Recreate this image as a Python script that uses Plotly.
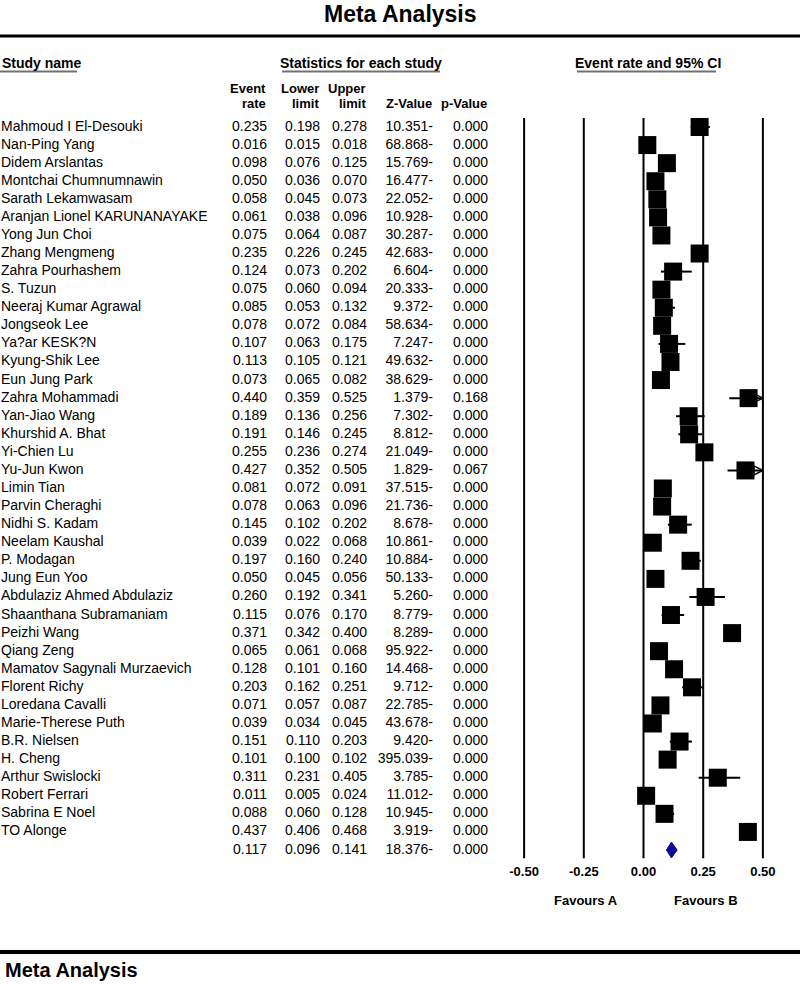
import plotly.graph_objects as go

# ---------------- data ----------------
studies = [
    "Mahmoud I El-Desouki", "Nan-Ping Yang", "Didem Arslantas", "Montchai Chumnumnawin",
    "Sarath Lekamwasam", "Aranjan Lionel KARUNANAYAKE", "Yong Jun Choi", "Zhang Mengmeng",
    "Zahra Pourhashem", "S. Tuzun", "Neeraj Kumar Agrawal", "Jongseok Lee", "Ya?ar KESK?N",
    "Kyung-Shik Lee", "Eun Jung Park", "Zahra Mohammadi", "Yan-Jiao Wang", "Khurshid A. Bhat",
    "Yi-Chien Lu", "Yu-Jun Kwon", "Limin Tian", "Parvin Cheraghi", "Nidhi S. Kadam",
    "Neelam Kaushal", "P. Modagan", "Jung Eun Yoo", "Abdulaziz Ahmed Abdulaziz",
    "Shaanthana Subramaniam", "Peizhi Wang", "Qiang Zeng", "Mamatov Sagynali Murzaevich",
    "Florent Richy", "Loredana Cavalli", "Marie-Therese Puth", "B.R. Nielsen", "H. Cheng",
    "Arthur Swislocki", "Robert Ferrari", "Sabrina E Noel", "TO Alonge",
]
event_rate = [0.235, 0.016, 0.098, 0.050, 0.058, 0.061, 0.075, 0.235, 0.124, 0.075,
              0.085, 0.078, 0.107, 0.113, 0.073, 0.440, 0.189, 0.191, 0.255, 0.427,
              0.081, 0.078, 0.145, 0.039, 0.197, 0.050, 0.260, 0.115, 0.371, 0.065,
              0.128, 0.203, 0.071, 0.039, 0.151, 0.101, 0.311, 0.011, 0.088, 0.437]
lower_limit = [0.198, 0.015, 0.076, 0.036, 0.045, 0.038, 0.064, 0.226, 0.073, 0.060,
               0.053, 0.072, 0.063, 0.105, 0.065, 0.359, 0.136, 0.146, 0.236, 0.352,
               0.072, 0.063, 0.102, 0.022, 0.160, 0.045, 0.192, 0.076, 0.342, 0.061,
               0.101, 0.162, 0.057, 0.034, 0.110, 0.100, 0.231, 0.005, 0.060, 0.406]
upper_limit = [0.278, 0.018, 0.125, 0.070, 0.073, 0.096, 0.087, 0.245, 0.202, 0.094,
               0.132, 0.084, 0.175, 0.121, 0.082, 0.525, 0.256, 0.245, 0.274, 0.505,
               0.091, 0.096, 0.202, 0.068, 0.240, 0.056, 0.341, 0.170, 0.400, 0.068,
               0.160, 0.251, 0.087, 0.045, 0.203, 0.102, 0.405, 0.024, 0.128, 0.468]
z_value = [10.351, 68.868, 15.769, 16.477, 22.052, 10.928, 30.287, 42.683, 6.604, 20.333,
           9.372, 58.634, 7.247, 49.632, 38.629, 1.379, 7.302, 8.812, 21.049, 1.829,
           37.515, 21.736, 8.678, 10.861, 10.884, 50.133, 5.260, 8.779, 8.289, 95.922,
           14.468, 9.712, 22.785, 43.678, 9.420, 395.039, 3.785, 11.012, 10.945, 3.919]
p_value = [0.000] * 15 + [0.168] + [0.000] * 3 + [0.067] + [0.000] * 20

summary_rate = 0.117
summary_lower = 0.096
summary_upper = 0.141
summary_z = 18.376
summary_p = 0.000

column_headers = [("Event", "rate"), ("Lower", "limit"), ("Upper", "limit"),
                  ("", "Z-Value"), ("", "p-Value")]
axis_ticks = [-0.50, -0.25, 0.00, 0.25, 0.50]
axis_min, axis_max = -0.50, 0.50

# ---------------- layout helpers ----------------
W, H = 800, 984
FONT = "Liberation Sans, Arial, sans-serif"
n = len(studies)
rows = list(range(n))
sum_row = n

ROW0, ROWSTEP = 127.0, 18.075          # pixel y of first row, row spacing
AX_BOTTOM = 862.0                      # pixel y where forest x-axis sits
y_top_val = -ROW0 / ROWSTEP
y_bot_val = (AX_BOTTOM - ROW0) / ROWSTEP

ZERO_PX, UNIT_PX = 643.5, 238.8        # pixel x of 0 and px per unit
x_left_val = (480 - ZERO_PX) / UNIT_PX
x_right_val = (800 - ZERO_PX) / UNIT_PX

COL_RIGHT = [267, 320, 367, 433, 488]  # right edges of the numeric columns (px)


def py(px):
    return 1 - px / H


fig = go.Figure()

# ---- table text columns (x2 axis in pixel units) ----
all_rows = rows + [sum_row]
fmt = lambda v: f"{v:.3f}"
fig.add_trace(go.Scatter(x=[1] * n, y=rows, text=studies, mode="text",
                         textposition="middle right", xaxis="x2", yaxis="y",
                         marker=dict(size=0),
                         textfont=dict(family=FONT, size=14, color="black"),
                         hoverinfo="skip", showlegend=False))
col_texts = [
    [fmt(v) for v in event_rate + [summary_rate]],
    [fmt(v) for v in lower_limit + [summary_lower]],
    [fmt(v) for v in upper_limit + [summary_upper]],
    [fmt(v) + "-" for v in z_value + [summary_z]],
    [fmt(v) for v in p_value + [summary_p]],
]
for xr, txt in zip(COL_RIGHT, col_texts):
    fig.add_trace(go.Scatter(x=[xr] * len(all_rows), y=all_rows, text=txt, mode="text",
                             textposition="middle left", xaxis="x2", yaxis="y",
                             marker=dict(size=0),
                             textfont=dict(family=FONT, size=14, color="black"),
                             hoverinfo="skip", showlegend=False))

# ---- confidence interval lines ----
ci_x, ci_y = [], []
for r, lo, up in zip(rows, lower_limit, upper_limit):
    ci_x += [max(lo, axis_min), min(up, axis_max), None]
    ci_y += [r, r, None]
fig.add_trace(go.Scatter(x=ci_x, y=ci_y, mode="lines", line=dict(color="black", width=2),
                         hoverinfo="skip", showlegend=False))

# ---- arrows for truncated CIs ----
arr_r = [r for r, up in zip(rows, upper_limit) if up > axis_max]
fig.add_trace(go.Scatter(x=[axis_max] * len(arr_r), y=arr_r, mode="markers",
                         marker=dict(symbol="arrow-right-open", size=9, color="black",
                                     line=dict(color="black", width=1.5)),
                         hoverinfo="skip", showlegend=False))

# ---- study squares ----
fig.add_trace(go.Scatter(x=event_rate, y=rows, mode="markers",
                         marker=dict(symbol="square", size=18, color="black",
                                     line=dict(width=0)),
                         hoverinfo="skip", showlegend=False))

# ---- summary diamond ----
dh = 0.44
fig.add_trace(go.Scatter(x=[summary_lower, summary_rate, summary_upper, summary_rate, summary_lower],
                         y=[sum_row, sum_row - dh, sum_row, sum_row + dh, sum_row],
                         mode="lines", fill="toself", fillcolor="#0c0c9a",
                         line=dict(color="#0c0c9a", width=1),
                         hoverinfo="skip", showlegend=False))

shapes = []
# vertical reference lines
for t in axis_ticks:
    shapes.append(dict(type="line", xref="x", yref="y", x0=t, x1=t,
                       y0=-0.5, y1=sum_row + 0.45, line=dict(color="black", width=2)))
# thick rules
shapes.append(dict(type="line", xref="paper", yref="paper", x0=0, x1=1,
                   y0=py(36), y1=py(36), line=dict(color="black", width=3)))
shapes.append(dict(type="line", xref="paper", yref="paper", x0=0, x1=1,
                   y0=py(952), y1=py(952), line=dict(color="black", width=4)))
# header underlines
for a, b in [(0, 77), (282, 440), (577, 716)]:
    shapes.append(dict(type="line", xref="paper", yref="paper", x0=a / W, x1=b / W,
                       y0=py(71.5), y1=py(71.5), line=dict(color="#707070", width=2)))

annotations = []


def ann(text, xpx, ypx, size, xanchor="center", bold=True, yanchor="middle", align="center"):
    annotations.append(dict(text=("<b>%s</b>" % text) if bold else text,
                            x=xpx / W, y=py(ypx), xref="paper", yref="paper",
                            xanchor=xanchor, yanchor=yanchor, align=align, showarrow=False,
                            font=dict(family=FONT, size=size, color="black")))


ann("Meta Analysis", 400, 14, 23)
ann("Study name", 0, 63, 14, xanchor="left")
ann("Statistics for each study", 361, 63, 14)
ann("Event rate and 95% CI", 648, 63, 14)
for xr, (top, bottom) in zip(COL_RIGHT, column_headers):
    if top:
        ann(top, xr + 1, 88, 13, xanchor="right")
    ann(bottom, xr + 1, 103, 13, xanchor="right")
ann("Favours A", 586, 900, 13)
ann("Favours B", 706, 900, 13)
ann("Meta Analysis", 3, 970, 20, xanchor="left")

fig.update_layout(
    width=W, height=H,
    margin=dict(l=0, r=0, t=0, b=0),
    paper_bgcolor="white", plot_bgcolor="rgba(0,0,0,0)",
    showlegend=False,
    shapes=shapes, annotations=annotations,
    xaxis=dict(domain=[0.6, 1.0], range=[x_left_val, x_right_val], anchor="y",
               tickvals=axis_ticks, ticktext=["<b>%.2f</b>" % t for t in axis_ticks],
               tickfont=dict(family=FONT, size=13, color="black"),
               showgrid=False, zeroline=False, showline=False, ticks="", fixedrange=True),
    xaxis2=dict(domain=[0, 1], range=[0, W], anchor="y", visible=False,
                showgrid=False, zeroline=False, fixedrange=True),
    yaxis=dict(domain=[1 - AX_BOTTOM / H, 1], range=[y_bot_val, y_top_val],
               visible=False, showgrid=False, zeroline=False, fixedrange=True),
)

fig.write_html("out.html", config={"displayModeBar": False},
               post_script="document.body.style.margin='0';document.body.style.padding='0';")
